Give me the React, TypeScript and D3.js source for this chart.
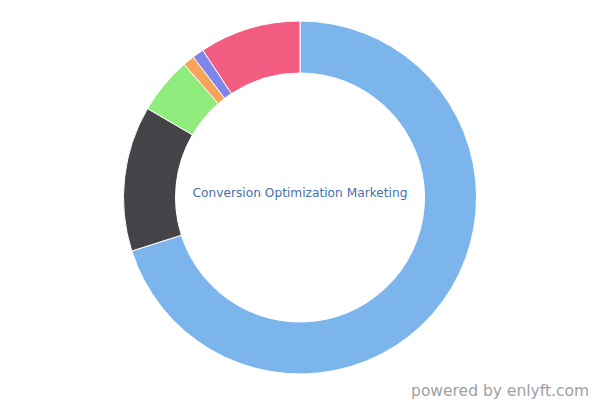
import React from "react";
import * as d3 from "d3";

const categories = ["A", "B", "C", "D", "E", "F"];
const values = [70.1, 13.3, 5.2, 1.06, 1.06, 9.28];
const colors = ["#7cb5ec", "#434348", "#90ed7d", "#f7a35c", "#8085e9", "#f15c80"];
const centerLabel = "Conversion Optimization Marketing";
const credit = "powered by enlyft.com";

export default function App() {
  const W = 600, H = 400;
  const cx = 300, cy = 197.5;
  const outer = 176.5, inner = 124.5;
  const pie = d3.pie<number>().sort(null).value((d) => d)(values);
  const arc = d3.arc<d3.PieArcDatum<number>>().innerRadius(inner).outerRadius(outer);
  return (
    <svg width={W} height={H} style={{ position: "absolute", left: 0, top: 0 }}>
      <g transform={`translate(${cx},${cy})`}>
        {pie.map((p, i) => (
          <path key={categories[i]} d={arc(p) || ""} fill={colors[i]} stroke="#ffffff" strokeWidth={1} strokeLinejoin="round" />
        ))}
      </g>
      <text x={cx} y={197} textAnchor="middle" fontFamily="DejaVu Sans" fontSize={12.2} fill="#4a6fa5">
        {centerLabel}
      </text>
      <text x={589} y={396} textAnchor="end" fontFamily="DejaVu Sans" fontSize={15.5} fill="#a0a0a0">
        {credit}
      </text>
    </svg>
  );
}
